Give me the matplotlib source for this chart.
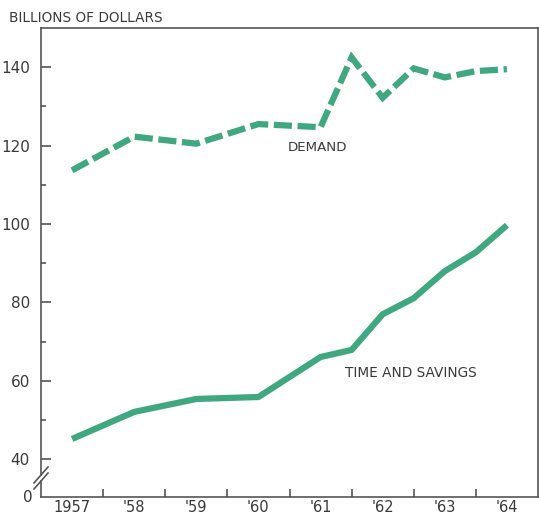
import matplotlib
matplotlib.use("Agg")
import matplotlib.pyplot as plt
import matplotlib.transforms as mtransforms
from matplotlib.ticker import FixedLocator, NullFormatter

# Bank deposits, billions of dollars
years = [1957.5, 1958.5, 1959.5, 1960.5, 1961.5, 1962.0, 1962.5,
         1963.0, 1963.5, 1964.0, 1964.5]
demand = [113.7, 122.3, 120.5, 125.5, 124.7, 142.5, 132.2,
          139.7, 137.4, 139.0, 139.5]
time_savings = [45.2, 52.1, 55.4, 55.9, 66.1, 67.9, 77.0,
                81.1, 88.0, 92.8, 99.7]

year_labels = ["1957", "'58", "'59", "'60", "'61", "'62", "'63", "'64"]
y_major = [40, 60, 80, 100, 120, 140]
y_minor = [50, 70, 90, 110, 130]

GREEN = "#3fa880"
INK = "#3a3a3a"
AXIS = "#555555"

plt.rcParams["font.family"] = ["DejaVu Sans"]

fig = plt.figure(figsize=(5.39, 5.17), dpi=100)
ax = fig.add_axes([41 / 539, 1 - 497 / 517, 497 / 539, 469 / 517])
h_px, w_px = 469.0, 497.0

y_bottom = 30.4
ax.set_xlim(1957, 1965)
ax.set_ylim(y_bottom, 150)

ax.plot(years, demand, color=GREEN, lw=4.5, dashes=(2.9, 0.9),
        dash_capstyle="butt", dash_joinstyle="miter")
ax.plot(years, time_savings, color=GREEN, lw=4.5,
        solid_capstyle="butt", solid_joinstyle="round")

# Y axis: labels from the axis, tick marks drawn inward by hand
ax.set_yticks(y_major, labels=[str(v) for v in y_major])
ax.tick_params(axis="y", which="major", length=0, labelsize=11,
               labelcolor=INK, pad=8)
ytrans = mtransforms.blended_transform_factory(ax.transAxes, ax.transData)
for v in y_major:
    ax.plot([0, 10 / w_px], [v, v], transform=ytrans, color=AXIS, lw=1.2,
            solid_capstyle="butt", clip_on=False)
for v in y_minor:
    ax.plot([0, 5 / w_px], [v, v], transform=ytrans, color=AXIS, lw=1.2,
            solid_capstyle="butt", clip_on=False)
# broken scale: "0" sits at the baseline
ax.text(-8 / w_px, 0, "0", transform=ax.transAxes, fontsize=11,
        color=INK, ha="right", va="center")

# X axis: ticks at year boundaries, labels centred on each year
ax.xaxis.set_major_locator(FixedLocator(range(1958, 1965)))
ax.xaxis.set_major_formatter(NullFormatter())
ax.xaxis.set_minor_locator(FixedLocator([y + 0.5 for y in range(1957, 1965)]))
ax.set_xticklabels(year_labels, minor=True)
ax.tick_params(axis="x", which="major", direction="in", length=6,
               width=1.2, color=AXIS)
ax.tick_params(axis="x", which="minor", length=0, labelsize=10.5,
               labelcolor=INK, pad=2)

for side in ["top", "right", "bottom"]:
    ax.spines[side].set_color(AXIS)
    ax.spines[side].set_linewidth(1.2)
ax.spines["left"].set_visible(False)

# Left axis line drawn in two pieces around the break marks
brk = 1 - (478 - 28) / h_px
gap = 3.0 / h_px
ax.plot([0, 0], [0, brk - gap], transform=ax.transAxes, color=AXIS,
        lw=1.2, clip_on=False)
ax.plot([0, 0], [brk + gap, 1], transform=ax.transAxes, color=AXIS,
        lw=1.2, clip_on=False)
dx, dy = 7 / w_px, 8 / h_px
for off in (-gap, gap):
    ax.plot([-dx, dx], [brk + off - dy, brk + off + dy],
            transform=ax.transAxes, color=AXIS, lw=1.2, clip_on=False)

fig.text(9 / 539, 1 - 22 / 517, "BILLIONS OF DOLLARS", fontsize=9.8,
         color=INK, ha="left", va="baseline")
ax.text(1961.45, 119.4, "DEMAND", fontsize=9.6, color=INK,
        ha="center", va="center")
ax.text(1962.95, 62.0, "TIME AND SAVINGS", fontsize=9.8, color=INK,
        ha="center", va="center")

fig.savefig("out.png", dpi=100, facecolor="white")
